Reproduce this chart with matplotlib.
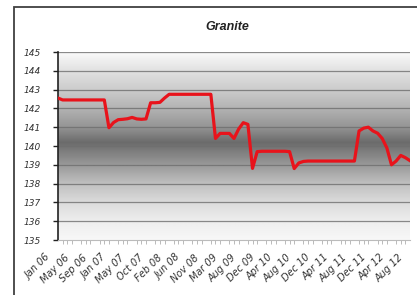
import numpy as np
import matplotlib
matplotlib.use("Agg")
import matplotlib.pyplot as plt
from matplotlib.patches import Rectangle
from matplotlib.transforms import ScaledTranslation

title = "Granite"
tick_labels = ["Jan 06", "May 06", "Sep 06", "Jan 07", "May 07", "Oct 07", "Feb 08",
               "Jun 08", "Nov 08", "Mar 09", "Aug 09", "Dec 09", "Apr 10", "Aug 10",
               "Dec 10", "Apr 11", "Aug 11", "Dec 11", "Apr 12", "Aug 12"]
label_step = 4
values = [142.55, 142.45, 142.45, 142.45, 142.45, 142.45, 142.45, 142.45, 142.45, 142.45,
          142.45, 140.97, 141.25, 141.4, 141.42, 141.45, 141.52, 141.44, 141.42, 141.44,
          142.3, 142.3, 142.32, 142.55, 142.75, 142.75, 142.75, 142.75, 142.75, 142.75,
          142.75, 142.75, 142.75, 142.75, 140.4, 140.67, 140.67, 140.67, 140.4, 140.9,
          141.24, 141.15, 138.81, 139.7, 139.72, 139.72, 139.72, 139.72, 139.72, 139.72,
          139.7, 138.8, 139.1, 139.18, 139.2, 139.2, 139.2, 139.2, 139.2, 139.2,
          139.2, 139.2, 139.2, 139.2, 139.2, 140.8, 140.95, 141.0, 140.8, 140.68,
          140.4, 139.9, 139.0, 139.2, 139.5, 139.38, 139.22]
y_min, y_max = 135, 145

n = len(values)
x = np.arange(n)

W, H = 417, 295
fig = plt.figure(figsize=(W / 100, H / 100), dpi=100)
fig.patch.set_facecolor("white")

# outer frame
fig.patches.append(Rectangle((14 / W, -0.1), 1.2, (295 - 7) / H + 0.1,
                             transform=fig.transFigure, fill=False,
                             edgecolor="#404040", linewidth=1.3))

ax = fig.add_axes([58 / W, (H - 240) / H, (410 - 58) / W, (240 - 52) / H])

# gradient background
yy = np.linspace(y_max, y_min, 400)
kp_y = [135, 136, 137, 138, 139, 140.2, 141, 142, 143, 144, 145]
kp_v = [0.97, 0.93, 0.86, 0.75, 0.6, 0.42, 0.58, 0.7, 0.8, 0.88, 0.98]
grad = np.interp(yy, kp_y, kp_v).reshape(-1, 1)
ax.imshow(grad, cmap="gray", vmin=0, vmax=1, aspect="auto",
          extent=[0, n - 1, y_min, y_max], zorder=0, interpolation="bilinear")

for v in range(y_min + 1, y_max + 1):
    ax.axhline(v, color="#6e6e6e", linewidth=0.9, alpha=0.8, zorder=1)

ax.plot(x, values, color="#e8131b", linewidth=2.3, zorder=3, solid_joinstyle="round")

ax.set_xlim(0, n - 1)
ax.set_ylim(y_min, y_max)

for s in ["top", "right"]:
    ax.spines[s].set_visible(False)
ax.spines["left"].set_color("#222222")
ax.spines["left"].set_linewidth(1.2)
ax.spines["bottom"].set_color("#bbbbbb")
ax.spines["bottom"].set_linewidth(0.8)

ax.set_yticks(range(y_min, y_max + 1))
ax.tick_params(axis="y", direction="out", length=3.5, width=1, color="#222222",
               labelsize=6.5, pad=9, labelcolor="#333333")
for lab in ax.get_yticklabels():
    lab.set_fontstyle("italic")

ax.set_xticks(x[::label_step][:len(tick_labels)])
ax.set_xticklabels(tick_labels, rotation=45, ha="right", va="center",
                   rotation_mode="anchor", fontsize=7, color="#333333", style="italic")
ax.tick_params(axis="x", which="major", length=0, pad=11.5)
shift = ScaledTranslation(-0.09, 0, fig.dpi_scale_trans)
for lab in ax.get_xticklabels():
    lab.set_transform(lab.get_transform() + shift)
ax.set_xticks(x, minor=True)
ax.tick_params(axis="x", which="minor", direction="out", length=3, width=0.6,
               color="#b0b0b0")

fig.text(227 / W, 1 - 27 / H, title, ha="center", va="center", fontsize=9,
         fontweight="bold", style="italic", color="#222222",
         family="Liberation Sans")

fig.savefig("out.png", dpi=100)
